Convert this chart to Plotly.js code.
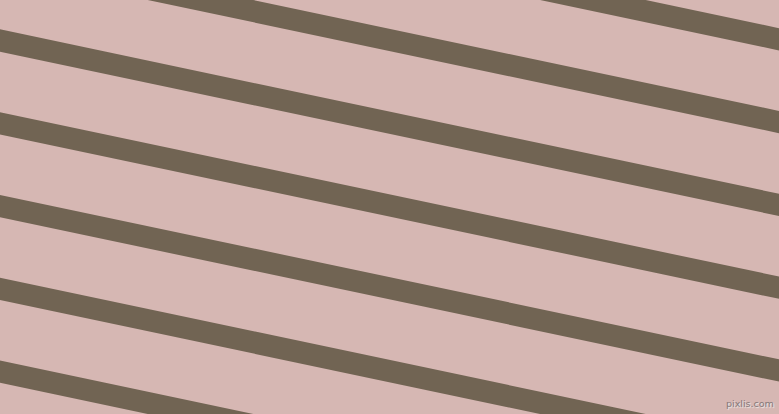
<!DOCTYPE html>
<html>
<head>
<meta charset="utf-8">
<script src="https://cdn.plot.ly/plotly-3.0.1.min.js"></script>
<style>
  html, body { margin: 0; padding: 0; background: #d6b7b3; }
  #plot { width: 779px; height: 414px; }
</style>
</head>
<body>
<div id="plot"></div>
<script>
// stripe centre lines: y where each one meets the left edge (x = 0)
var stripeStarts = [-207.9, -125.1, -42.3, 40.5, 123.3, 206.1, 288.9, 371.7, 454.5];
var stripeSlope = 0.211;   // drop per pixel going right
var stripeEnds = [-20, 800]; // x from just outside left to just outside right

var traces = stripeStarts.map(function (y0) {
  return {
    x: stripeEnds,
    y: stripeEnds.map(function (x) { return y0 + stripeSlope * x; }),
    mode: "lines",
    type: "scatter",
    line: { color: "#716453", width: 21.8 },
    hoverinfo: "skip",
    showlegend: false
  };
});

var layout = {
  width: 779,
  height: 414,
  margin: { l: 0, r: 0, t: 0, b: 0 },
  paper_bgcolor: "#d6b7b3",
  plot_bgcolor: "#d6b7b3",
  xaxis: { range: [0, 779], visible: false, fixedrange: true },
  yaxis: { range: [414, 0], visible: false, fixedrange: true },
  annotations: [{
    text: "pixlis.com",
    xref: "paper", yref: "paper",
    x: 0.996, y: 0.008,
    xanchor: "right", yanchor: "bottom",
    showarrow: false,
    font: { family: "DejaVu Sans, sans-serif", size: 9.5, color: "#857878",
            shadow: "1px 1px 1px #eee" }
  }]
};

Plotly.newPlot("plot", traces, layout, { staticPlot: true, displayModeBar: false });
</script>
</body>
</html>
